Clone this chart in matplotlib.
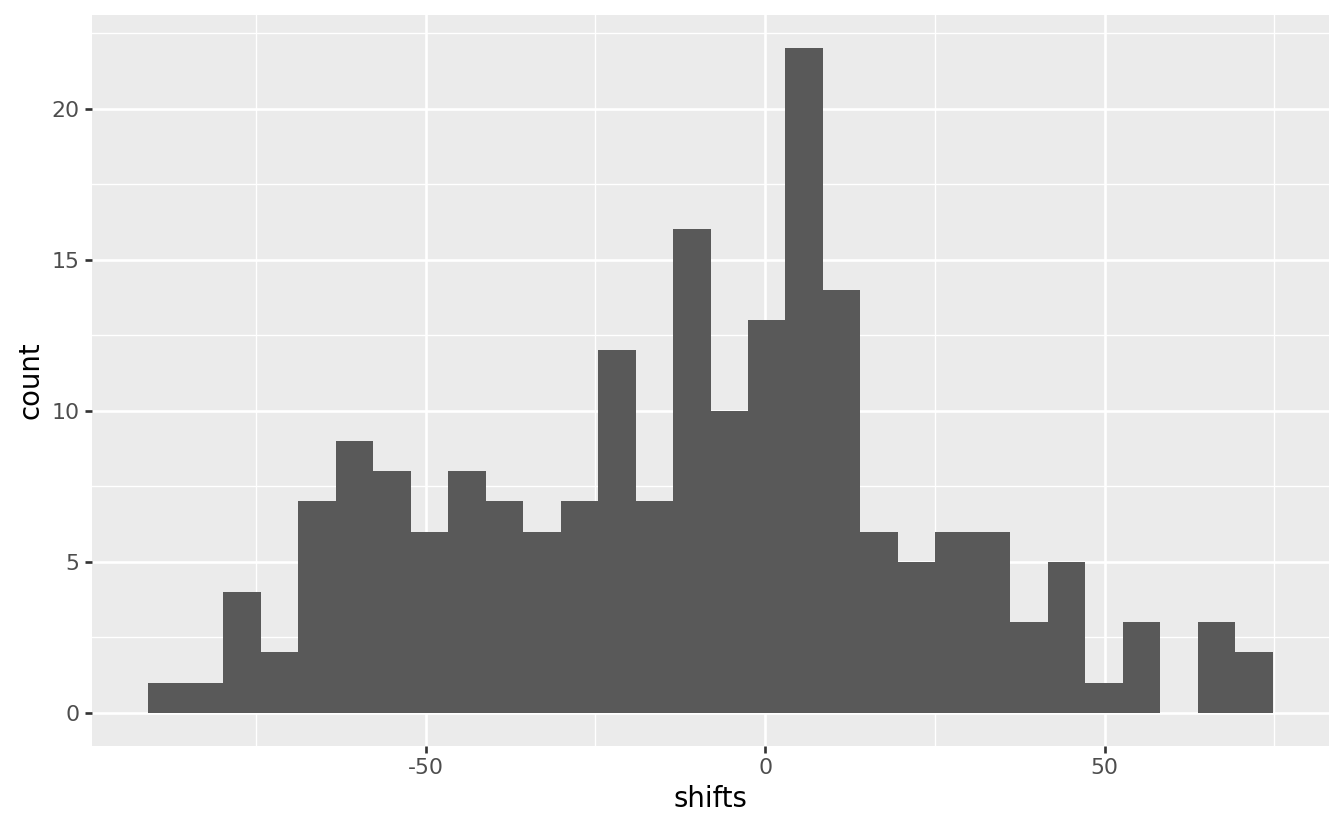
import numpy as np
import matplotlib.pyplot as plt
from matplotlib.ticker import MultipleLocator

plt.rcParams['axes.unicode_minus'] = False

# histogram of shifts, 30 bins (ggplot default)
counts = [1, 1, 4, 2, 7, 9, 8, 6, 8, 7,
          6, 7, 12, 7, 16, 10, 13, 22, 14, 6,
          5, 6, 6, 3, 5, 1, 3, 0, 3, 2]
first_edge = -90.9
bin_width = 5.523

x_ticks = [-50, 0, 50]
y_ticks = [0, 5, 10, 15, 20]

edges = first_edge + bin_width * np.arange(len(counts))

k = 1.25  # ggplot render scale
fig = plt.figure(figsize=(1344 / 144, 830 / 144), dpi=144)
ax = fig.add_axes([92 / 1344, 1 - 746 / 830, (1329 - 92) / 1344, (746 - 15) / 830])

ax.set_facecolor('#EBEBEB')
ax.bar(edges, counts, width=bin_width, align='edge', color='#595959', linewidth=0, zorder=3)

# limits with ggplot's 5% expansion
lo, hi = edges[0], edges[-1] + bin_width
pad = (hi - lo) * 0.05
ax.set_xlim(lo - pad, hi + pad)
ymax = max(counts)
ax.set_ylim(-ymax * 0.05, ymax * 1.05)

ax.set_xticks(x_ticks)
ax.set_yticks(y_ticks)
ax.xaxis.set_minor_locator(MultipleLocator(25))
ax.yaxis.set_minor_locator(MultipleLocator(2.5))

ax.grid(which='major', color='white', linewidth=1.07 * k, zorder=1)
ax.grid(which='minor', color='white', linewidth=0.53 * k, zorder=1)
ax.set_axisbelow(True)

for s in ax.spines.values():
    s.set_visible(False)

ax.tick_params(which='major', length=2.75 * k, width=1.07 * k, color='#333333',
               labelsize=8.8 * k, labelcolor='#4D4D4D', pad=2.2 * k)
ax.tick_params(which='minor', length=0)

ax.set_xlabel('shifts', fontsize=11 * k, color='black', labelpad=2.75 * k)
ax.set_ylabel('count', fontsize=11 * k, color='black', labelpad=2.75 * k)

fig.savefig('out.png', dpi=144)
